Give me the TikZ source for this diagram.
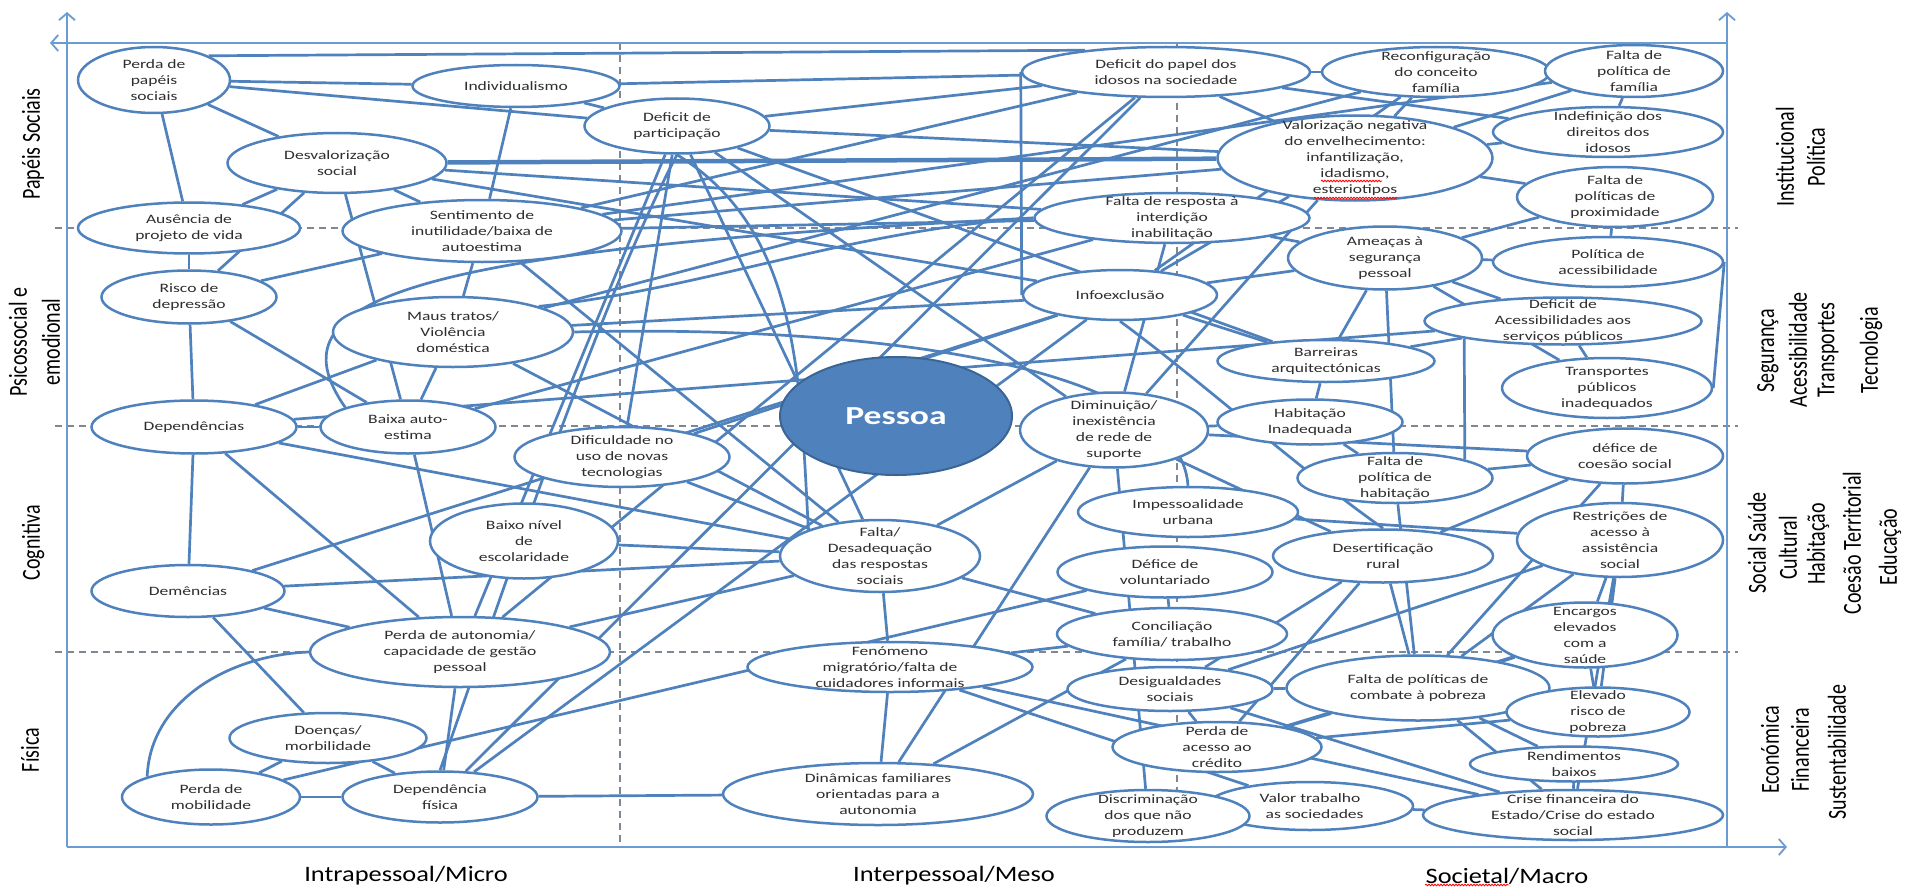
\documentclass[tikz,border=0pt]{standalone}
\usepackage{fontspec}
\setmainfont{Carlito}[FakeStretch=1.37]
\newfontfamily\axisfont{Carlito}
\newfontfamily\bottomfont{Carlito}[FakeStretch=1.2]
\usetikzlibrary{shapes.geometric,arrows.meta,decorations.pathmorphing}
\pgfdeclarelayer{bg}
\pgfsetlayers{bg,main}
\definecolor{eblue}{HTML}{4F81BD}
\definecolor{axblue}{HTML}{6C9BD2}
\definecolor{dgray}{HTML}{7F8790}
\definecolor{txt}{HTML}{2E2E2E}
\definecolor{pdark}{HTML}{3B6694}
\tikzset{
 el/.style={ellipse, draw=eblue, line width=2.5pt, fill=white, inner xsep=-12pt, inner ysep=-12pt, align=center, font=\fontsize{12.8}{16}\selectfont, text=txt},
 ed/.style={draw=eblue, line width=2.7pt},
 dsh/.style={draw=dgray, line width=1.1pt, dash pattern=on 7pt off 5pt},
 ax/.style={draw=axblue, line width=1.8pt},
 axlab/.style={font=\axisfont\fontsize{20}{24}\selectfont, rotate=90, yscale=1.3, text=black},
 botlab/.style={font=\bottomfont\fontsize{22}{26}\selectfont, text=black},
 squig/.style={draw=red, line width=0.8pt, decorate, decoration={snake, amplitude=0.8pt, segment length=3pt}}
}
\begin{document}
\begin{tikzpicture}[x=1pt,y=-1pt]
\useasboundingbox (0,0) rectangle (1905,888);
% ---------- nodes ----------
\node[el, minimum width=152pt, minimum height=66pt] (perda) at (154,80) {Perda de\\papéis\\sociais};
\node[el, minimum width=207pt, minimum height=42pt] (indiv) at (516,86) {Individualismo};
\node[el, minimum width=219pt, minimum height=60pt] (desval) at (337,163) {Desvalorização\\social};
\node[el, minimum width=222pt, minimum height=51pt] (ausencia) at (189,228) {Ausência de\\projeto de vida};
\node[el, minimum width=279pt, minimum height=62pt] (sentim) at (482,231) {Sentimento de\\inutilidade/baixa de\\autoestima};
\node[el, minimum width=185pt, minimum height=55pt] (defpart) at (677,126) {Deficit de\\participação};
\node[el, minimum width=288pt, minimum height=50pt] (defpapel) at (1166,72) {Deficit do papel dos\\idosos na sociedade};
\node[el, minimum width=228pt, minimum height=50pt] (reconf) at (1436,72) {Reconfiguração\\do conceito\\família};
\node[el, minimum width=178pt, minimum height=52pt] (faltafam) at (1634,71) {Falta de\\política de\\família};
\node[el, minimum width=275pt, minimum height=85pt] (valoriz) at (1355,158) {Valorização negativa\\do envelhecimento:\\infantilização,\\idadismo,\\esteriotipos};
\node[el, minimum width=230pt, minimum height=50pt] (indef) at (1608,132) {Indefinição dos\\direitos dos\\idosos};
\node[el, minimum width=196pt, minimum height=60pt] (proxim) at (1615,197) {Falta de\\políticas  de\\proximidade};
\node[el, minimum width=275pt, minimum height=50pt] (faltaresp) at (1172,218) {Falta de resposta à\\interdição\\inabilitação};
\node[el, minimum width=194pt, minimum height=63pt] (ameacas) at (1385,258) {Ameaças à\\segurança\\pessoal};
\node[el, minimum width=230pt, minimum height=50pt] (polacess) at (1608,262) {Política de\\acessibilidade};
\node[el, minimum width=194pt, minimum height=50pt] (infoex) at (1120,295) {Infoexclusão};
\node[el, minimum width=277pt, minimum height=47pt] (defacess) at (1563,321) {Deficit de\\Acessibilidades aos\\serviços públicos};
\node[el, minimum width=217pt, minimum height=42pt] (barreiras) at (1326,361) {Barreiras\\arquitectónicas};
\node[el, minimum width=210pt, minimum height=60pt] (transp) at (1607,388) {Transportes\\públicos\\inadequados};
\node[ellipse, draw=pdark, line width=2pt, fill=eblue, minimum width=232pt, minimum height=118pt, inner sep=0pt, text=white, font=\fontsize{26}{30}\selectfont\bfseries] (pessoa) at (896,416) {Pessoa};
\node[el, minimum width=188pt, minimum height=75pt] (diminu) at (1114,430) {Diminuição/\\inexistência\\de rede de\\suporte};
\node[el, minimum width=185pt, minimum height=45pt] (habit) at (1310,422) {Habitação\\Inadequada};
\node[el, minimum width=195pt, minimum height=50pt] (polhab) at (1395,478) {Falta de\\política de\\habitação};
\node[el, minimum width=196pt, minimum height=55pt] (coesao) at (1625,456) {défice de\\coesão social};
\node[el, minimum width=220pt, minimum height=50pt] (impess) at (1188,512) {Impessoalidade\\urbana};
\node[el, minimum width=215pt, minimum height=51pt] (volunt) at (1165,572) {Défice de\\voluntariado};
\node[el, minimum width=220pt, minimum height=53pt] (desert) at (1383,556) {Desertificação\\rural};
\node[el, minimum width=206pt, minimum height=74pt] (restr) at (1620,540) {Restrições de\\acesso à\\assistência\\social};
\node[el, minimum width=215pt, minimum height=60pt] (dific) at (622,457) {Dificuldade no\\uso de novas\\tecnologias};
\node[el, minimum width=188pt, minimum height=75pt] (baixonivel) at (524,541) {Baixo nível\\de\\escolaridade};
\node[el, minimum width=200pt, minimum height=72pt] (faltadesad) at (880,556) {Falta/\\Desadequação\\das respostas\\sociais};
\node[el, minimum width=240pt, minimum height=70pt] (maus) at (453,332) {Maus tratos/\\Violência\\doméstica};
\node[el, minimum width=175pt, minimum height=53pt] (risco) at (189,297) {Risco de\\depressão};
\node[el, minimum width=205pt, minimum height=53pt] (depend) at (194,427) {Dependências};
\node[el, minimum width=175pt, minimum height=53pt] (baixaauto) at (408,427) {Baixa auto-\\estima};
\node[el, minimum width=193pt, minimum height=52pt] (demenc) at (188,591) {Demências};
\node[el, minimum width=300pt, minimum height=70pt] (perdaaut) at (460,652) {Perda de autonomia/\\capacidade de gestão\\pessoal};
\node[el, minimum width=197pt, minimum height=50pt] (doencas) at (328,738) {Doenças/\\morbilidade};
\node[el, minimum width=178pt, minimum height=55pt] (perdamob) at (211,797) {Perda de\\mobilidade};
\node[el, minimum width=195pt, minimum height=51pt] (depfis) at (440,797) {Dependência\\física};
\node[el, minimum width=285pt, minimum height=50pt] (fenom) at (890,667) {Fenómeno\\migratório/falta de\\cuidadores informais};
\node[el, minimum width=310pt, minimum height=62pt] (dinam) at (878,794) {Dinâmicas familiares\\orientadas para a\\autonomia};
\node[el, minimum width=230pt, minimum height=52pt] (concil) at (1172,634) {Conciliação\\família/ trabalho};
\node[el, minimum width=205pt, minimum height=44pt] (desig) at (1170,689) {Desigualdades\\sociais};
\node[el, minimum width=209pt, minimum height=50pt] (credito) at (1217,747) {Perda de\\acesso ao\\crédito};
\node[el, minimum width=206pt, minimum height=48pt] (valor) at (1310,806) {Valor trabalho\\\phantom{n}as sociedades};
\node[el, minimum width=203pt, minimum height=52pt] (discrim) at (1148,816) {Discriminação\\dos que não\\produzem};
\node[el, minimum width=263pt, minimum height=65pt] (combate) at (1418,688) {Falta de políticas de\\combate à pobreza};
\node[el, minimum width=185pt, minimum height=65pt] (encargos) at (1585,635) {Encargos\\elevados\\com a\\saúde};
\node[el, minimum width=183pt, minimum height=49pt] (elevado) at (1598,712) {Elevado\\risco de\\pobreza};
\node[el, minimum width=208pt, minimum height=35pt] (rendim) at (1574,764) {Rendimentos\\baixos};
\node[el, minimum width=300pt, minimum height=50pt] (crise) at (1573,815) {Crise financeira do\\Estado/Crise do estado\\social};
% ---------- axis labels ----------
\node[axlab] (lPap) at (33,144) {Papéis Sociais};
\node[axlab] (lPsi1) at (18,342) {Psicossocial e};
\node[axlab] (lPsi2) at (51,342) {emodional};
\node[axlab] (lCog) at (33,543) {Cognitiva};
\node[axlab] (lFis) at (30,750) {Física};
\node[axlab] (rInst) at (1785,157) {Institucional};
\node[axlab] (rPol) at (1816,157) {Política};
\node[axlab] (rSeg) at (1768,351) {Segurança};
\node[axlab] (rAce) at (1798,350) {Acessibilidade};
\node[axlab] (rTra) at (1828,350) {Transportes};
\node[axlab] (rTec) at (1871,350) {Tecnologia};
\node[axlab] (rSoc) at (1757,543) {Social Saúde};
\node[axlab] (rCul) at (1788,548) {Cultural};
\node[axlab] (rHab) at (1818,544) {Habitação};
\node[axlab] (rCoe) at (1852,543) {Coesão Territorial};
\node[axlab] (rEdu) at (1890,547) {Educação};
\node[axlab] (rEco) at (1770,750) {Económica};
\node[axlab] (rFin) at (1800,750) {Financeira};
\node[axlab] (rSus) at (1837,752) {Sustentabilidade};
\node[botlab] (bIntra) at (406,876) {Intrapessoal/Micro};
\node[botlab] (bInter) at (954,876) {Interpessoal/Meso};
\node[botlab] (bSoc) at (1507,876) {Societal/Macro};
% spell-check squiggles
\draw[squig] (1321,181) -- (1382,181);
\draw[squig] (1314,198) -- (1397,198);
\draw[squig] (1425,885) -- (1509,885);
% ---------- background layer ----------
\begin{pgfonlayer}{bg}
\fill[white] (0,0) rectangle (1905,888);
% dashed grid
\draw[dsh] (620,43) -- (620,847);
\draw[dsh] (1177,43) -- (1177,847);
\draw[dsh] (55,228) -- (1738,228);
\draw[dsh] (55,426) -- (1738,426);
\draw[dsh] (55,652) -- (1738,652);
% axes
\coordinate (axBL) at (67,847);
\coordinate (axTL) at (67,12);
\coordinate (axTR) at (1727,43);
\coordinate (axTRup) at (1727,12);
\coordinate (axBR) at (1727,847);
\coordinate (axLeft) at (50,43);
\coordinate (axRight) at (1787,847);
\draw[ax, -{Straight Barb[length=7pt,width=16pt]}] (axBL) -- (axTL);
\draw[ax, -{Straight Barb[length=7pt,width=16pt]}] (axTR) -- (axLeft);
\draw[ax, -{Straight Barb[length=7pt,width=16pt]}] (axBR) -- (axTRup);
\draw[ax, -{Straight Barb[length=7pt,width=16pt]}] (axBL) -- (axRight);
% special connectors
\draw[ed] (perda.north east) -- (defpapel.165);
\draw[ed, line width=4.5pt] (desval) -- (valoriz);
\draw[ed] (defpapel.west) -- (infoex.west);
\draw[ed] (polacess.east) -- (transp.east);
\draw[ed] (defacess.south west) -- (polhab.north east);
\draw[ed] (maus.north east) .. controls (700,290) and (850,230) .. (faltaresp.west);
\draw[ed] (baixaauto.north west) .. controls (270,300) and (400,250) .. (faltaresp.west);
\draw[ed] (maus.east) .. controls (850,325) and (1180,360) .. (impess.north);
\draw[ed] (infoex.south) .. controls (1200,380) and (1300,470) .. (desert.north);
\draw[ed] (perdaaut.west) .. controls (230,655) and (150,700) .. (perdamob.north west);
\draw[ed] (defpart.south) .. controls (800,230) and (800,380) .. (faltadesad.north west);
\draw[ed] (depfis.north) .. controls (500,600) and (600,300) .. (defpart.south);
% straight connectors
\foreach \a/\b in {perda/indiv, perda/defpart, perda/desval, perda/ausencia,
 desval/ausencia, desval/baixaauto, desval/risco, desval/sentim, desval/faltaresp, desval/infoex,
 ausencia/risco, risco/sentim,
 indiv/defpapel, indiv/defpart, indiv/sentim,
 defpart/defpapel, defpart/valoriz, defpart/dific, defpart/faltadesad, defpart/barreiras, defpart/diminu,
 sentim/defpapel, sentim/valoriz, sentim/faltaresp, sentim/faltafam, sentim/maus, sentim/faltadesad,
 defpapel/perdaaut, defpapel/valoriz, defpapel/reconf, defpapel/indef,
 maus/reconf, baixaauto/faltaresp,
 valoriz/diminu, valoriz/infoex, faltafam/valoriz, faltafam/indef, reconf/valoriz, indef/valoriz, valoriz/proxim,
 proxim/ameacas, proxim/polacess, ameacas/polacess,
 faltaresp/diminu, faltaresp/ameacas,
 diminu/faltadesad, diminu/dinam, diminu/discrim, diminu/habit, diminu/desert, diminu/coesao,
 barreiras/habit, barreiras/ameacas, habit/polhab,
 impess/restr, defacess/transp, ameacas/polhab,
 coesao/desert, coesao/combate, coesao/polhab, coesao/restr,
 restr/elevado, restr/crise, restr/combate, restr/encargos,
 encargos/elevado,
 concil/volunt, concil/faltadesad, concil/dinam, concil/fenom,
 fenom/crise, fenom/valor, fenom/dinam, fenom/faltadesad,
 desig/combate, desig/restr, desig/desert, desig/credito, desig/crise,
 credito/encargos, credito/elevado, credito/combate,
 valor/crise,
 perdaaut/faltadesad, perdaaut/defpart,
 depfis/dinam, depfis/infoex, depfis/defpapel,
 perdamob/volunt,
 demenc/perdaaut, demenc/doencas, demenc/infoex, demenc/faltadesad,
 perdaaut/depfis, doencas/perdamob, doencas/depfis, perdamob/depfis,
 baixaauto/perdaaut, depend/perdaaut,
 risco/baixaauto, risco/depend,
 depend/maus, depend/baixaauto, depend/defacess, depend/faltadesad, depend/demenc,
 maus/baixaauto, maus/infoex, maus/faltadesad,
 dific/faltadesad, dific/infoex, baixonivel/faltadesad,
 infoex/barreiras, infoex/ameacas, ameacas/defacess, ameacas/transp, barreiras/defacess,
 polhab/combate, desert/combate, desert/credito,
 combate/encargos, combate/rendim, combate/crise, rendim/crise,
 reconf/infoex}
 {\draw[ed] (\a) -- (\b);}
\end{pgfonlayer}
\end{tikzpicture}
\end{document}
